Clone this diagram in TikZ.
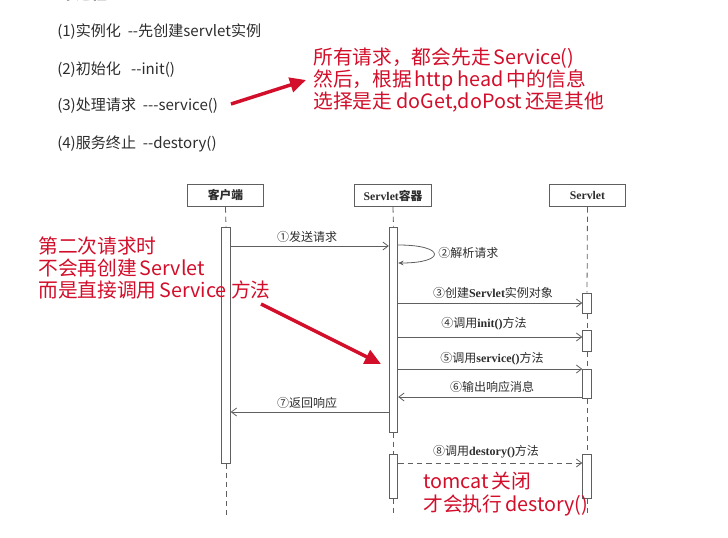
\documentclass[tikz,border=0pt]{standalone}
\usepackage{fontspec}
\setmainfont{Noto Sans CJK SC}
\newfontfamily\cjk{Noto Sans CJK SC}
\newfontfamily\lserif{Liberation Serif}
\usetikzlibrary{arrows.meta}
\definecolor{notered}{RGB}{210,14,42}
\definecolor{txtgray}{RGB}{45,45,45}
\definecolor{linegray}{RGB}{95,95,95}
\newcommand{\lat}[1]{{\lserif\bfseries #1}}
\begin{document}
\begin{tikzpicture}[x=0.75pt,y=-0.75pt,
  toptext/.style={anchor=west,inner sep=0,text=txtgray,font=\cjk\fontsize{11.3pt}{12pt}\selectfont},
  note/.style={anchor=west,inner sep=0,text=notered,align=left,font=\cjk\fontsize{14.8pt}{16.6pt}\selectfont},
  redarrow/.style={draw=notered,line width=2.6pt,-{Triangle[length=12pt,width=11pt]}},
  headbox/.style={draw=linegray,line width=0.6pt,fill=white,minimum width=57.5pt,minimum height=17pt,inner sep=0,text=txtgray,font=\cjk\bfseries\fontsize{8.8pt}{10pt}\selectfont},
  actbar/.style={draw=linegray,line width=0.6pt,fill=white,minimum width=6.5pt,inner sep=0},
  life/.style={draw=linegray,line width=0.6pt,dash pattern=on 4pt off 3pt},
  msg/.style={draw=linegray,line width=0.6pt,-{Straight Barb[length=4pt,width=6pt]}},
  dmsg/.style={msg,dash pattern=on 4pt off 3pt},
  lbl/.style={inner sep=0,text=txtgray,font=\cjk\fontsize{9pt}{10pt}\selectfont}
]
\useasboundingbox (0,0) rectangle (728,538);

% cut-off heading
\node[anchor=base west,inner sep=0,text=txtgray,font=\cjk\bfseries\fontsize{11.5pt}{12pt}\selectfont] (cut) at (45,0) {四个过程};

% top list
\node[toptext] (t1) at (57,32) {(1)实例化\ \ -{}-先创建servlet实例};
\node[toptext] (t2) at (57,70) {(2)初始化\ \ \ -{}-init()};
\node[toptext] (t3) at (57,106) {(3)处理请求\ \ -{}-{}-service()};
\node[toptext] (t4) at (57,144) {(4)服务终止\ \ -{}-destory()};

% top red note
\node[note] (n1) at (313,80) {所有请求，都会先走\hspace{0.15em}Service()\\然后，根据\hspace{0.15em}http head\hspace{0.15em}中的信息\\选择是走 doGet,doPost\hspace{0.15em}还是其他};
\coordinate (a1s) at (231,104);
\coordinate (a1e) at (306,80);
\draw[redarrow] (a1s) -- (a1e);

% heads
\node[headbox] (hc) at (225.5,195.5) {客户端};
\node[headbox] (hs) at (393,195.5) {\lat{Servlet}容器};
\node[headbox] (hv) at (587.5,195.5) {\lat{Servlet}};

% activation bars
\node[actbar,minimum height=177pt] (cb) at (226,345) {};
\node[actbar,minimum height=153.75pt] (sb1) at (393.5,329.5) {};
\node[actbar,minimum height=33pt] (sb2) at (393.5,476) {};
\node[actbar,minimum height=15pt] (vb1) at (587,303) {};
\node[actbar,minimum height=15.75pt] (vb2) at (587,340.5) {};
\node[actbar,minimum height=21.75pt] (vb3) at (587,383.5) {};
\node[actbar,minimum height=33pt] (vb4) at (587,476) {};

% lifeline ends
\coordinate (ce) at (226,517);
\coordinate (se) at (393.5,517);
\coordinate (ve) at (587,517);

% lifelines
\draw[life] (hc.south) -- (cb.north);
\draw[life] (cb.south) -- (ce);
\draw[life] (hs.south) -- (sb1.north);
\draw[life] (sb1.south) -- (sb2.north);
\draw[life] (sb2.south) -- (se);
\draw[life] (hv.south) -- (vb1.north);
\draw[life] (vb1.south) -- (vb2.north);
\draw[life] (vb2.south) -- (vb3.north);
\draw[life] (vb3.south) -- (vb4.north);
\draw[life] (vb4.south) -- (ve);

% messages
\draw[msg] (cb.east |- 0,246) -- (sb1.west |- 0,246);
\node[lbl] (l1) at (307,237) {①发送请求};

\draw[draw=linegray,line width=0.6pt,-{Stealth[length=4pt,width=3.5pt]}] (sb1.east |- 0,245) .. controls (446,245) and (446,263) .. (sb1.east |- 0,263);
\node[lbl,anchor=west] (l2) at (438,253) {②解析请求};

\draw[msg] (sb1.east |- 0,303) -- (vb1.west |- 0,303);
\node[lbl] (l3) at (493,293) {③创建\lat{Servlet}实例对象};

\draw[msg] (sb1.east |- 0,337) -- (vb2.west |- 0,337);
\node[lbl] (l4) at (484,324) {④调用\lat{init()}方法};

\draw[msg] (sb1.east |- 0,369) -- (vb3.west |- 0,369);
\node[lbl] (l5) at (492,359) {⑤调用\lat{service()}方法};

\draw[msg] (vb3.west |- 0,397) -- (sb1.east |- 0,397);
\node[lbl] (l6) at (492,387) {⑥输出响应消息};

\draw[msg] (sb1.west |- 0,412) -- (cb.east |- 0,412);
\node[lbl] (l7) at (307,403) {⑦返回响应};

\draw[dmsg] (sb2.east |- 0,463) -- (vb4.west |- 0,463);
\node[lbl] (l8) at (486,452) {⑧调用\lat{destory()}方法};

% left red note
\node[note] (n2) at (38,268) {第二次请求时\\不会再创建\hspace{0.15em}Servlet\\而是直接调用\hspace{0.15em}Service 方法};
\coordinate (a2s) at (261,304);
\coordinate (a2e) at (381,364);
\draw[redarrow] (a2s) -- (a2e);

% bottom red note
\node[note] (n3) at (423,494) {tomcat\hspace{0.15em}关闭\\才会执行\hspace{0.15em}destory()};
\end{tikzpicture}
\end{document}
